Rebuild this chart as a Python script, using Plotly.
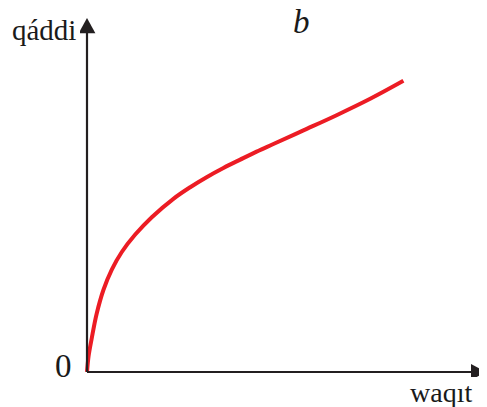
import plotly.graph_objects as go

# curve (time, height)
waqit = [0.0, 0.04, 0.12, 0.24, 0.41, 0.62, 0.87, 1.20, 1.62, 2.16, 2.58, 2.99, 3.41,
         3.83, 4.24, 4.66, 5.41, 6.24, 7.08, 7.91]
qaddi = [0.0, 0.40, 0.85, 1.45, 2.05, 2.56, 3.00, 3.43, 3.87, 4.33, 4.62, 4.87, 5.10,
         5.31, 5.51, 5.70, 6.04, 6.42, 6.83, 7.28]

x_label = "waqıt"
y_label = "qáddi"
panel_label = "b"
origin_label = "0"

fig = go.Figure()
fig.add_trace(go.Scatter(x=waqit, y=qaddi, mode="lines",
                         line=dict(color="#ec1c24", width=4, shape="spline", smoothing=1.0),
                         hoverinfo="skip", showlegend=False))

X_MAX, Y_MAX = 9.98, 8.85
axis_col = "#231f20"
# axis lines
fig.add_shape(type="line", x0=0, y0=0, x1=X_MAX - 0.35, y1=0, xref="x", yref="y",
              line=dict(color=axis_col, width=2.2))
fig.add_shape(type="line", x0=0, y0=0, x1=0, y1=Y_MAX - 0.35, xref="x", yref="y",
              line=dict(color=axis_col, width=2.2))
# arrow heads
fig.add_shape(type="path", xref="x", yref="y",
              path=f"M {X_MAX-0.38},{-0.2} L {X_MAX},0 L {X_MAX-0.38},{0.2} Z",
              fillcolor=axis_col, line=dict(color=axis_col, width=0))
fig.add_shape(type="path", xref="x", yref="y",
              path=f"M {-0.21},{Y_MAX-0.38} L 0,{Y_MAX} L {0.21},{Y_MAX-0.38} Z",
              fillcolor=axis_col, line=dict(color=axis_col, width=0))

font = "Liberation Serif, Times New Roman, serif"
txt = "#1a1a1a"
fig.add_annotation(text=y_label, x=43.5, y=30, showarrow=False,
                   font=dict(family=font, size=29, color=txt))
fig.add_annotation(text=f"<i>{panel_label}</i>", x=301, y=22, showarrow=False,
                   font=dict(family=font, size=33, color=txt))
fig.add_annotation(text=origin_label, x=63, y=365.5, showarrow=False,
                   font=dict(family=font, size=33, color=txt))
fig.add_annotation(text=x_label, x=441, y=392, showarrow=False,
                   font=dict(family=font, size=28, color=txt))

# page offset of 8px (browser body margin); positions above are window pixels
OFF = 8
W, H = 487 - OFF, 407 - OFF
L, R, T, B = 72, 0, 2, 30
pw, ph = W - L - R, H - T - B
for a in fig.layout.annotations:
    a.update(xref="paper", yref="paper",
             x=(a.x - OFF - L) / pw, y=(H - B - (a.y - OFF)) / ph,
             xanchor="center", yanchor="middle")

fig.update_layout(width=W, height=H, margin=dict(l=L, r=R, t=T, b=B),
                  paper_bgcolor="white", plot_bgcolor="white",
                  xaxis=dict(range=[-0.175, 10.0], visible=False, fixedrange=True),
                  yaxis=dict(range=[-0.125, 9.05], visible=False, fixedrange=True))
fig.write_html("out.html")
